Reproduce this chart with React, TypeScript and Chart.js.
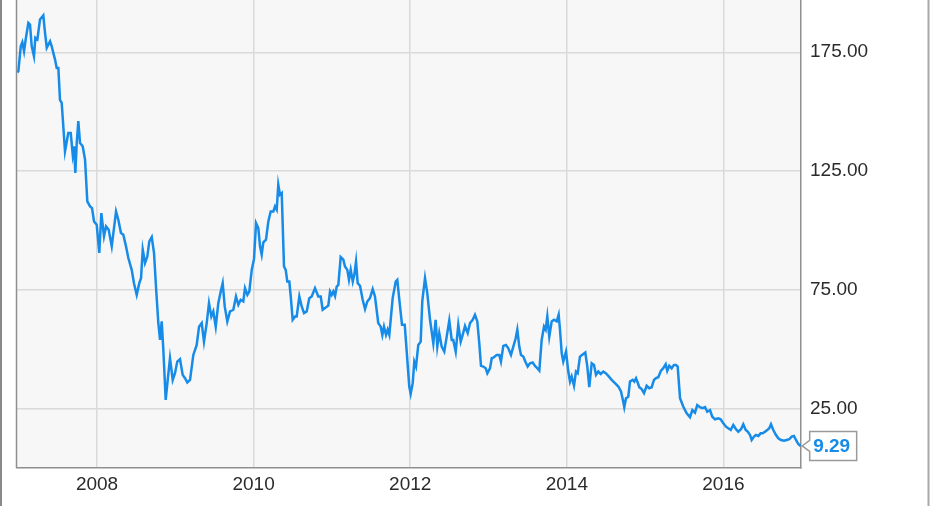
import React, { useEffect, useRef } from "react";
import { Chart, registerables } from "chart.js";

Chart.register(...registerables);

// Decimal years of each weekly-ish observation
const dates: number[] = [
  2006.982, 2006.995, 2007.026, 2007.046, 2007.068, 2007.089, 2007.123, 2007.144, 2007.166, 2007.195,
  2007.212, 2007.238, 2007.272, 2007.314, 2007.336, 2007.358, 2007.400, 2007.421, 2007.464, 2007.485,
  2007.506, 2007.527, 2007.549, 2007.591, 2007.633, 2007.664, 2007.690, 2007.706, 2007.723, 2007.741,
  2007.761, 2007.783, 2007.817, 2007.847, 2007.876, 2007.911, 2007.936, 2007.962, 2007.996, 2008.029,
  2008.055, 2008.089, 2008.115, 2008.149, 2008.188, 2008.243, 2008.272, 2008.306, 2008.336, 2008.370,
  2008.400, 2008.443, 2008.472, 2008.507, 2008.540, 2008.562, 2008.584, 2008.613, 2008.642, 2008.668,
  2008.699, 2008.728, 2008.753, 2008.783, 2008.805, 2008.826, 2008.847, 2008.877, 2008.903, 2008.932,
  2008.967, 2008.996, 2009.025, 2009.060, 2009.094, 2009.124, 2009.153, 2009.188, 2009.230, 2009.273,
  2009.303, 2009.337, 2009.366, 2009.401, 2009.430, 2009.460, 2009.485, 2009.516, 2009.549, 2009.580,
  2009.605, 2009.631, 2009.664, 2009.699, 2009.741, 2009.775, 2009.805, 2009.835, 2009.868, 2009.890,
  2009.920, 2009.945, 2009.976, 2010.005, 2010.031, 2010.060, 2010.082, 2010.103, 2010.124, 2010.158,
  2010.188, 2010.218, 2010.252, 2010.273, 2010.295, 2010.315, 2010.337, 2010.359, 2010.388, 2010.410,
  2010.430, 2010.456, 2010.474, 2010.499, 2010.529, 2010.550, 2010.584, 2010.614, 2010.644, 2010.678,
  2010.711, 2010.742, 2010.784, 2010.826, 2010.857, 2010.882, 2010.912, 2010.954, 2010.976, 2010.997,
  2011.018, 2011.040, 2011.061, 2011.082, 2011.112, 2011.146, 2011.167, 2011.197, 2011.218, 2011.240,
  2011.266, 2011.286, 2011.308, 2011.329, 2011.359, 2011.393, 2011.423, 2011.452, 2011.486, 2011.521,
  2011.550, 2011.592, 2011.623, 2011.644, 2011.665, 2011.691, 2011.712, 2011.733, 2011.776, 2011.815,
  2011.835, 2011.861, 2011.895, 2011.930, 2011.963, 2011.988, 2012.006, 2012.032, 2012.052, 2012.074,
  2012.103, 2012.134, 2012.154, 2012.189, 2012.218, 2012.253, 2012.295, 2012.325, 2012.346, 2012.371,
  2012.402, 2012.435, 2012.466, 2012.499, 2012.530, 2012.550, 2012.581, 2012.614, 2012.645, 2012.670,
  2012.700, 2012.734, 2012.764, 2012.798, 2012.827, 2012.857, 2012.882, 2012.904, 2012.933, 2012.964,
  2012.985, 2013.019, 2013.041, 2013.070, 2013.105, 2013.138, 2013.159, 2013.189, 2013.223, 2013.253,
  2013.287, 2013.317, 2013.347, 2013.368, 2013.393, 2013.415, 2013.444, 2013.470, 2013.500, 2013.530,
  2013.564, 2013.594, 2013.623, 2013.649, 2013.679, 2013.709, 2013.730, 2013.751, 2013.776, 2013.807,
  2013.836, 2013.871, 2013.896, 2013.913, 2013.935, 2013.955, 2013.990, 2014.019, 2014.041, 2014.062,
  2014.092, 2014.117, 2014.139, 2014.168, 2014.211, 2014.236, 2014.262, 2014.287, 2014.318, 2014.347,
  2014.373, 2014.402, 2014.433, 2014.466, 2014.497, 2014.530, 2014.573, 2014.615, 2014.658, 2014.692,
  2014.721, 2014.734, 2014.756, 2014.785, 2014.807, 2014.841, 2014.862, 2014.884, 2014.900, 2014.926,
  2014.956, 2014.986, 2015.020, 2015.053, 2015.084, 2015.113, 2015.139, 2015.168, 2015.203, 2015.232,
  2015.263, 2015.283, 2015.309, 2015.339, 2015.369, 2015.394, 2015.416, 2015.446, 2015.488, 2015.531,
  2015.573, 2015.603, 2015.637, 2015.666, 2015.701, 2015.735, 2015.765, 2015.794, 2015.829, 2015.858,
  2015.893, 2015.935, 2015.965, 2015.999, 2016.033, 2016.062, 2016.093, 2016.126, 2016.161, 2016.190,
  2016.225, 2016.254, 2016.285, 2016.310, 2016.340, 2016.361, 2016.391, 2016.416, 2016.446, 2016.476,
  2016.502, 2016.531, 2016.560, 2016.586, 2016.608, 2016.637, 2016.672, 2016.701, 2016.735, 2016.774,
  2016.808, 2016.841, 2016.872, 2016.901, 2016.927, 2016.956, 2016.987,
];

// Price values
const prices: number[] = [
  166.5, 166.9, 177.5, 179.2, 175.4, 180.4, 187.4, 186.7, 177.5, 173.3,
  181.1, 180.4, 188.8, 190.5, 183.2, 176.9, 179.6, 177.5, 171.9, 168.4,
  168.4, 155.0, 153.7, 133.3, 141.0, 141.0, 131.9, 135.4, 124.2, 136.8,
  146.0, 136.8, 135.4, 129.8, 112.2, 110.1, 109.4, 103.8, 102.4, 90.5,
  107.3, 97.5, 101.7, 100.3, 93.3, 108.0, 104.5, 98.9, 98.2, 93.3,
  88.4, 83.4, 77.8, 72.9, 77.8, 79.9, 91.9, 86.3, 89.0, 95.4,
  97.2, 90.5, 76.4, 61.0, 53.9, 61.7, 49.7, 28.7, 37.1, 46.2,
  37.1, 39.9, 44.8, 45.8, 39.2, 37.8, 36.0, 37.1, 47.6, 51.8,
  59.5, 61.0, 53.2, 61.0, 69.4, 63.8, 65.9, 59.5, 69.4, 74.3,
  77.8, 68.0, 61.7, 65.9, 66.6, 72.2, 68.7, 70.8, 70.1, 75.7,
  72.9, 74.3, 83.4, 88.0, 103.1, 101.0, 93.3, 89.8, 95.0, 96.1,
  103.8, 108.0, 108.0, 110.1, 108.7, 119.3, 115.0, 115.7, 84.8, 83.4,
  78.5, 78.5, 72.2, 62.4, 63.8, 63.8, 72.2, 68.0, 65.2, 65.9,
  71.5, 72.2, 75.7, 72.2, 72.2, 66.6, 67.3, 68.4, 74.3, 72.9,
  74.3, 72.4, 76.4, 77.1, 88.8, 87.7, 84.8, 83.4, 79.2, 83.4,
  78.5, 81.3, 86.9, 77.8, 76.7, 70.8, 66.9, 70.1, 71.5, 75.3,
  72.2, 61.0, 59.5, 56.0, 59.5, 56.0, 58.2, 56.0, 71.5, 78.5,
  79.2, 70.8, 60.3, 60.3, 45.5, 34.3, 31.2, 35.7, 44.8, 42.7,
  51.8, 53.2, 70.1, 79.9, 73.6, 62.4, 52.5, 62.4, 51.1, 56.8,
  51.1, 49.0, 55.3, 62.1, 53.9, 53.9, 49.0, 60.3, 53.2, 56.0,
  59.8, 56.8, 61.0, 62.4, 64.5, 61.7, 52.5, 43.0, 42.7, 42.0,
  39.9, 42.0, 46.2, 46.6, 47.6, 47.6, 44.8, 51.4, 51.8, 50.4,
  47.6, 51.1, 54.6, 58.2, 51.1, 47.6, 46.9, 44.8, 42.7, 44.1,
  44.4, 43.0, 42.0, 41.0, 53.9, 59.5, 58.2, 63.8, 55.3, 61.7,
  62.4, 61.7, 64.5, 58.2, 48.3, 44.8, 49.0, 40.6, 36.4, 38.5,
  34.6, 40.6, 39.9, 46.9, 48.0, 48.6, 42.7, 34.0, 44.1, 43.4,
  39.2, 40.6, 39.6, 40.6, 39.9, 38.8, 37.1, 35.7, 34.3, 32.2,
  27.9, 25.6, 29.4, 30.0, 36.4, 37.1, 36.4, 37.8, 36.4, 34.0,
  33.2, 31.5, 34.6, 33.6, 34.0, 37.1, 37.8, 38.2, 41.0, 42.0,
  43.7, 40.9, 43.0, 42.0, 43.4, 43.4, 42.7, 29.4, 25.8, 23.0,
  21.4, 24.4, 23.3, 26.5, 25.6, 25.2, 25.6, 23.7, 24.4, 21.6,
  20.5, 20.9, 20.5, 18.8, 17.4, 16.7, 16.0, 18.1, 16.3, 15.3,
  16.3, 18.4, 16.0, 15.3, 13.9, 11.8, 13.2, 13.9, 13.5, 14.6,
  14.6, 15.3, 16.0, 16.7, 18.4, 16.0, 13.9, 12.5, 11.8, 11.5,
  11.8, 12.1, 13.2, 13.5, 11.8, 10.1, 9.29,
];

const xTicks: number[] = [2008, 2010, 2012, 2014, 2016];
const yTicks: number[] = [25, 75, 125, 175];
const xMin = 2006.978;
const xMax = 2016.991;
const yMin = 0;
const yMax = 197;

const LINE = "#168be8";
const FONT = "'Liberation Sans', Arial, sans-serif";

const decor = {
  id: "decor",
  beforeDraw(chart: any) {
    const { ctx, chartArea: a } = chart;
    ctx.save();
    ctx.fillStyle = "#ffffff";
    ctx.fillRect(0, 0, chart.width, chart.height);
    ctx.fillStyle = "#f7f7f7";
    ctx.fillRect(a.left, a.top, a.right - a.left, a.bottom - a.top);
    ctx.restore();
  },
  afterDraw(chart: any) {
    const { ctx, chartArea: a } = chart;
    ctx.save();
    // left border of plot
    ctx.strokeStyle = "#8f8f8f";
    ctx.lineWidth = 1.5;
    ctx.beginPath();
    ctx.moveTo(a.left - 0.5, a.top);
    ctx.lineTo(a.left - 0.5, a.bottom);
    ctx.stroke();
    // outer frame fragments
    ctx.fillStyle = "#8a8a8a";
    ctx.fillRect(0, 0, 2, chart.height);
    ctx.fillStyle = "#a8a8a8";
    ctx.fillRect(927.5, 0, 2, chart.height);

    // last value label
    const meta = chart.getDatasetMeta(0);
    const pt = meta.data[meta.data.length - 1];
    if (pt) {
      const px = pt.x;
      const py = pt.y;
      const txt = prices[prices.length - 1].toFixed(2);
      ctx.font = `bold 19px ${FONT}`;
      const tw = ctx.measureText(txt).width;
      const bx = px + 9;
      const bw = tw + 10;
      const bh = 29;
      const by = py - 14.5;
      ctx.beginPath();
      ctx.moveTo(bx, by);
      ctx.lineTo(bx + bw, by);
      ctx.lineTo(bx + bw, by + bh);
      ctx.lineTo(bx, by + bh);
      ctx.lineTo(bx, py + 5.5);
      ctx.lineTo(px + 1.5, py);
      ctx.lineTo(bx, py - 5.5);
      ctx.closePath();
      ctx.fillStyle = "#ffffff";
      ctx.fill();
      ctx.strokeStyle = "#9a9a9a";
      ctx.lineWidth = 1.5;
      ctx.stroke();
      ctx.fillStyle = LINE;
      ctx.textAlign = "left";
      ctx.textBaseline = "middle";
      ctx.fillText(txt, bx + 3.5, py + 1);
    }
    ctx.restore();
  },
};

export default function App() {
  const ref = useRef<HTMLCanvasElement | null>(null);

  useEffect(() => {
    document.body.style.margin = "0";
    if (!ref.current) return;
    const points = dates.map((d, i) => ({ x: d, y: prices[i] }));
    const chart = new Chart(ref.current, {
      type: "line",
      data: {
        datasets: [
          {
            data: points,
            borderColor: LINE,
            borderWidth: 2.5,
            pointRadius: 0,
            pointHoverRadius: 0,
            tension: 0,
            fill: false,
          },
        ],
      },
      options: {
        animation: false,
        responsive: true,
        maintainAspectRatio: false,
        layout: { padding: { left: 17, top: 0, right: 0, bottom: 0 } },
        plugins: {
          legend: { display: false },
          tooltip: { enabled: false },
        },
        events: [],
        scales: {
          x: {
            type: "linear",
            min: xMin,
            max: xMax,
            afterBuildTicks: (s: any) => {
              s.ticks = xTicks.map((v) => ({ value: v }));
            },
            afterFit: (s: any) => {
              s.height = 38;
              s.paddingLeft = 0;
              s.paddingRight = 0;
            },
            grid: { color: "#dadada", lineWidth: 1.5, drawTicks: false },
            border: { display: true, color: "#8f8f8f", width: 1.5 },
            ticks: {
              padding: 5,
              color: "#2b2b2b",
              font: { family: FONT, size: 19 },
              maxRotation: 0,
              autoSkip: false,
              callback: (v: any) => String(v),
            },
          },
          y: {
            type: "linear",
            position: "right",
            min: yMin,
            max: yMax,
            afterBuildTicks: (s: any) => {
              s.ticks = yTicks.map((v) => ({ value: v }));
            },
            afterFit: (s: any) => {
              s.width = 130;
              s.paddingTop = 0;
              s.paddingBottom = 0;
            },
            grid: { color: "#dadada", lineWidth: 1.5, drawTicks: false },
            border: { display: true, color: "#8f8f8f", width: 1.5 },
            ticks: {
              padding: 9,
              color: "#2b2b2b",
              font: { family: FONT, size: 19 },
              autoSkip: false,
              callback: (v: any) => Number(v).toFixed(2),
            },
          },
        },
      },
      plugins: [decor],
    });
    return () => chart.destroy();
  }, []);

  return (
    <div style={{ position: "fixed", left: 0, top: 0, width: 931, height: 506 }}>
      <canvas ref={ref} />
    </div>
  );
}
